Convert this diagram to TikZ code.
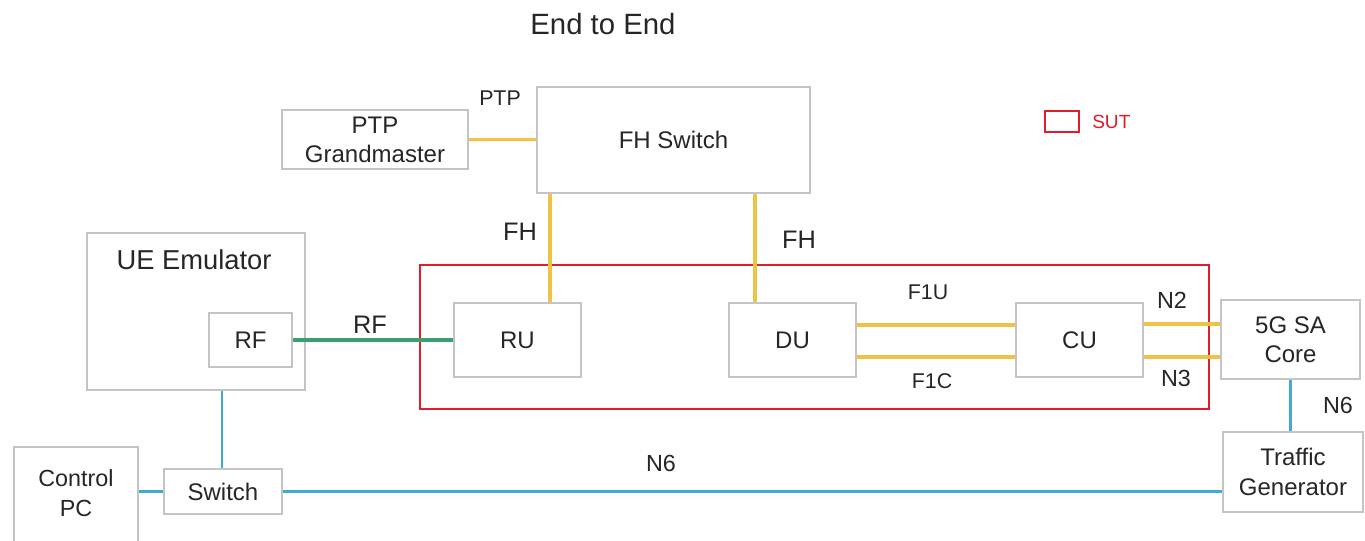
\documentclass[tikz,border=0pt]{standalone}
\usepackage{fontspec}
\setmainfont{Liberation Sans}
\usetikzlibrary{calc}
\definecolor{yel}{RGB}{240,194,70}
\definecolor{grn}{RGB}{60,160,110}
\definecolor{blu}{RGB}{62,172,206}
\definecolor{sutred}{RGB}{222,30,40}
\definecolor{boxgray}{RGB}{196,196,196}
\definecolor{txt}{RGB}{38,38,38}
\tikzset{
  box/.style={draw=boxgray, line width=1.1pt, fill=white, text=txt, align=center, inner sep=0pt, font=\fontsize{18}{21.75}\selectfont},
  sbox/.style={box, font=\fontsize{18}{22.5}\selectfont},
  lbl/.style={text=txt, inner sep=0pt, font=\fontsize{16}{19}\selectfont},
  blbl/.style={lbl, font=\fontsize{19}{23}\selectfont},
  slbl/.style={lbl, font=\fontsize{17.5}{21}\selectfont},
  yline/.style={draw=yel, line width=2.6pt},
  gline/.style={draw=grn, line width=2.6pt},
  bline/.style={draw=blu, line width=2.2pt},
  sutbox/.style={draw=sutred, line width=2pt},
}
\begin{document}
\begin{tikzpicture}[x=0.75pt, y=-0.75pt]
\useasboundingbox[fill=white] (0,0) rectangle (1365,541);
% title
\node[lbl, font=\fontsize{22}{26}\selectfont] (title) at (603,24) {End to End};
% SUT region
\node[sutbox, minimum width=789*0.75pt, minimum height=144*0.75pt, inner sep=0pt] (sut) at (814.5,337) {};
% legend
\node[sutbox, minimum width=34*0.75pt, minimum height=21*0.75pt, inner sep=0pt] (leg) at (1062,121.5) {};
\node[lbl, text=sutred, anchor=west, font=\fontsize{14.3}{17}\selectfont] (legt) at (1092,122) {SUT};
% boxes
\node[box, minimum width=186*0.75pt, minimum height=59*0.75pt] (gm) at (375,139.5) {PTP\\Grandmaster};
\node[box, minimum width=273*0.75pt, minimum height=106*0.75pt] (fhs) at (673.5,140) {FH Switch};
\node[box, minimum width=218*0.75pt, minimum height=157*0.75pt] (ue) at (196,311.5) {};
\node[lbl, font=\fontsize{20.5}{24}\selectfont] (uelbl) at (194,260) {UE Emulator};
\node[box, minimum width=83*0.75pt, minimum height=54*0.75pt] (rf) at (250.5,340) {RF};
\node[box, minimum width=127*0.75pt, minimum height=74*0.75pt] (ru) at (517.5,340) {RU};
\node[box, minimum width=127*0.75pt, minimum height=74*0.75pt] (du) at (792.5,340) {DU};
\node[box, minimum width=127*0.75pt, minimum height=74*0.75pt] (cu) at (1079.5,340) {CU};
\node[box, minimum width=139*0.75pt, minimum height=79*0.75pt] (core) at (1290.5,339.5) {5G SA\\Core};
\node[sbox, minimum width=140*0.75pt, minimum height=80*0.75pt] (tg) at (1293,472) {Traffic\\Generator};
\node[sbox, minimum width=124*0.75pt, minimum height=100*0.75pt] (pc) at (76,497) {};
\node[lbl, align=center, font=\fontsize{17.5}{22.5}\selectfont] (pclbl) at (76,493) {Control\\PC};
\node[sbox, minimum width=118*0.75pt, minimum height=45*0.75pt] (sw) at (223,491.5) {Switch};
% connectors
\draw[yline] (gm.east) -- (gm.east -| fhs.west);
\path (ru.north) ++(32.5,0) coordinate (fh1);
\draw[yline] (fh1) -- (fh1 |- fhs.south);
\path (du.north) ++(-37.5,0) coordinate (fh2);
\draw[yline] (fh2) -- (fh2 |- fhs.south);
\path (du.east) ++(0,-15) coordinate (f1u);
\draw[yline] (f1u) -- (f1u -| cu.west);
\path (du.east) ++(0,17) coordinate (f1c);
\draw[yline] (f1c) -- (f1c -| cu.west);
\path (cu.east) ++(0,-16) coordinate (n2);
\draw[yline] (n2) -- (n2 -| core.west);
\path (cu.east) ++(0,17) coordinate (n3);
\draw[yline] (n3) -- (n3 -| core.west);
\draw[gline] (rf.east) -- (ru.west);
\draw[bline] (core.south) -- (core.south |- tg.north);
\path (ue.south) ++(26,0) coordinate (u1);
\draw[bline] (u1) -- (u1 |- sw.north);
\draw[bline] (sw.west) -- (sw.west -| pc.east);
\draw[bline, line width=2.8pt] (sw.east) -- (sw.east -| tg.west);
% labels
\node[lbl] (lptp) at (500,98) {PTP};
\node[blbl] (lfh1) at (520,232) {FH};
\node[blbl] (lfh2) at (799,240) {FH};
\node[blbl] (lrf) at (370,325) {RF};
\node[lbl] (lf1u) at (928,292) {F1U};
\node[lbl] (lf1c) at (932,381) {F1C};
\node[slbl] (ln2) at (1172,300) {N2};
\node[slbl] (ln3) at (1176,378) {N3};
\node[slbl] (ln6a) at (1338,405) {N6};
\node[slbl] (ln6b) at (661,463) {N6};
\end{tikzpicture}
\end{document}
